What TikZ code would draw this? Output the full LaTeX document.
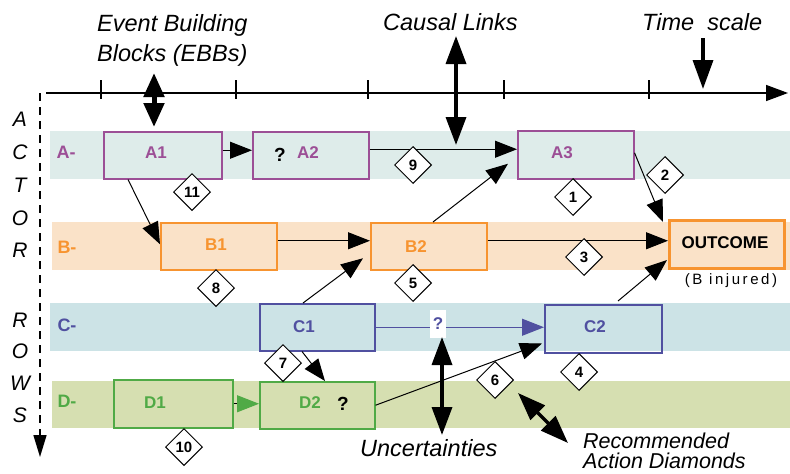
\documentclass[tikz,border=0pt]{standalone}
\usepackage{fontspec}
\setmainfont{Liberation Sans}
\newfontfamily\widefont[LetterSpace=17]{Liberation Sans}
\usetikzlibrary{arrows.meta,shapes.geometric,calc}
\definecolor{bandA}{RGB}{222,236,234}
\definecolor{bandB}{RGB}{250,226,200}
\definecolor{bandC}{RGB}{204,227,230}
\definecolor{bandD}{RGB}{214,223,177}
\definecolor{colA}{RGB}{156,79,150}
\definecolor{colB}{RGB}{247,148,48}
\definecolor{colC}{RGB}{80,80,160}
\definecolor{colD}{RGB}{80,170,70}
\begin{document}
\begin{tikzpicture}[x=1pt,y=-1pt,
  ebb/.style={draw=#1, line width=1.5pt, inner sep=0pt, anchor=north west},
  lbl/.style={font=\bfseries\fontsize{17}{20}\selectfont, text=#1, inner sep=0pt},
  rowlab/.style={font=\bfseries\fontsize{18}{20}\selectfont, text=#1, inner sep=0pt},
  diam/.style={diamond, draw=black, fill=white, line width=1pt, minimum size=37pt, inner sep=0pt, font=\bfseries\fontsize{15}{17}\selectfont},
  conn/.style={line width=1pt, -{Triangle[length=22pt,width=17pt]}},
  big/.style={line width=3.5pt, {Triangle[length=28pt,width=20pt]}-{Triangle[length=28pt,width=20pt]}},
  note/.style={font=\itshape\fontsize{23.5}{28}\selectfont, anchor=base west, inner sep=0pt},
  side/.style={font=\itshape\fontsize{21}{24}\selectfont, inner sep=0pt},
  tick/.style={line width=1.5pt}
]
\useasboundingbox (0,0) rectangle (790,474);
% bands
\fill[bandA] (50,131) rectangle (790,179);
\fill[bandB] (52,222) rectangle (790,270);
\fill[bandC] (50,303) rectangle (790,351);
\fill[bandD] (52,381) rectangle (790,428);
% axes
\coordinate (axL) at (46,93);
\coordinate (axR) at (788,93);
\draw[line width=1.5pt, -{Triangle[length=22pt,width=16pt]}] (axL) -- (axR);
\foreach \t in {101,236,368,504,649} \draw[tick] (\t,80) -- (\t,99);
\coordinate (vT) at (40,93);
\coordinate (vB) at (40,457);
\draw[line width=1.5pt, dash pattern=on 8pt off 6pt, -{Triangle[length=22pt,width=13pt]}] (vT) -- (vB);
% side letters
\foreach \l/\yy [count=\i] in {A/119,C/152,T/185,O/218,R/250,R/320,O/351,W/383,S/415}
  \node[side] (side\i) at (20,\yy) {\l};
% row labels
\node[rowlab=colA] (rA) at (66,152) {A-};
\node[rowlab=colB] (rB) at (67,247) {B-};
\node[rowlab=colC] (rC) at (67,325) {C-};
\node[rowlab=colD] (rD) at (67,401) {D-};
% boxes
\node[ebb=colA, minimum width=118pt, minimum height=47pt] (A1) at (103,131) {};
\node[ebb=colA, minimum width=116pt, minimum height=47pt] (A2) at (252,131) {};
\node[ebb=colA, minimum width=116pt, minimum height=48pt] (A3) at (517,130) {};
\node[ebb=colB, minimum width=116pt, minimum height=47pt] (B1) at (160,222) {};
\node[ebb=colB, minimum width=116pt, minimum height=47pt] (B2) at (370,222) {};
\node[ebb=colB, line width=3pt, minimum width=115pt, minimum height=48pt] (OUT) at (668,219) {};
\node[ebb=colC, minimum width=115pt, minimum height=47pt] (C1) at (259,303) {};
\node[ebb=colC, minimum width=117pt, minimum height=48pt] (C2) at (544,304) {};
\node[ebb=colD, minimum width=119pt, minimum height=48pt] (D1) at (113,379) {};
\node[ebb=colD, minimum width=115pt, minimum height=47pt] (D2) at (259,381) {};
% box labels
\node[lbl=colA] (tA1) at (156,153) {A1};
\node[lbl=black, font=\bfseries\fontsize{19}{20}\selectfont] (qA2) at (280,155) {?};
\node[lbl=colA] (tA2) at (308,153) {A2};
\node[lbl=colA] (tA3) at (562,153) {A3};
\node[lbl=colB] (tB1) at (216,245) {B1};
\node[lbl=colB] (tB2) at (416,247) {B2};
\node[lbl=black] (tOUT) at (725,243) {OUTCOME};
\node[inner sep=0pt, anchor=base, font=\widefont\fontsize{15}{18}\selectfont] (inj) at (731,284) {(B injured)};
\node[lbl=colC] (tC1) at (304,327) {C1};
\node[lbl=colC] (tC2) at (595,327) {C2};
\node[lbl=colD] (tD1) at (155,403) {D1};
\node[lbl=colD] (tD2) at (310,403) {D2};
\node[lbl=black, font=\bfseries\fontsize{19}{20}\selectfont] (qD2) at (343,404) {?};
% connector start points
\coordinate (a1o) at ([yshift=5pt]A1.east);
\coordinate (a2o) at ([yshift=6pt]A2.east);
\coordinate (b1o) at ([yshift=5.5pt]B1.east);
\coordinate (b2o) at ([yshift=5.5pt]B2.east);
% connectors
\draw[conn] (a1o) -- (a1o -| A2.west);
\draw[conn] (a2o) -- (a2o -| A3.west);
\draw[conn] ([xshift=25pt]A1.south west) -- ([yshift=2pt]B1.west);
\draw[conn] (b1o) -- (b1o -| B2.west);
\draw[conn] ([xshift=44pt]C1.north west) -- ([xshift=-7pt,yshift=-12pt]B2.west);
\draw[conn] ([xshift=63pt]B2.north west) -- ([xshift=-9pt,yshift=-9pt]A3.west);
\draw[conn] ([yshift=2pt]A3.east) -- ([xshift=-5pt,yshift=-3pt]OUT.north west);
\draw[conn] (b2o) -- (b2o -| OUT.west);
\draw[conn] ([xshift=74pt,yshift=3pt]C2.north west) -- ([xshift=-1pt,yshift=10pt]OUT.south west);
\draw[conn, draw=colC, -{Triangle[length=22pt,width=17pt,color=colC]}] (C1.east) -- (C1.east -| C2.west);
\draw[conn] (D2.east) -- ([xshift=-2pt,yshift=10pt]C2.south west);
\draw[conn] ([xshift=43pt]C1.south west) -- ([xshift=66pt]D2.north west);
\draw[conn, -{Triangle[length=22pt,width=17pt,color=colD]}] (D1.east) -- (D1.east -| D2.west);
\node[lbl=colC, fill=white, inner xsep=3pt, inner ysep=8pt] (qC) at (438,324) {?};
% diamonds
\node[diam] (d11) at (192,192) {11};
\node[diam] (d8) at (216,288) {8};
\node[diam] (d10) at (184,447) {10};
\node[diam] (d7) at (283,363) {7};
\node[diam] (d9) at (413,165) {9};
\node[diam] (d1) at (573,197) {1};
\node[diam] (d2) at (665,175) {2};
\node[diam] (d3) at (584,257) {3};
\node[diam] (d5) at (413,283) {5};
\node[diam] (d6) at (495,380) {6};
\node[diam] (d4) at (579,372) {4};
% big pointer arrows
\coordinate (ebbT) at (154,73);
\coordinate (ebbB) at (154,127);
\draw[line width=5pt, {Triangle[length=24pt,width=20pt]}-{Triangle[length=24pt,width=20pt]}] (ebbT) -- (ebbB);
\coordinate (clT) at (456,36);
\coordinate (clB) at (456,145);
\draw[big] (clT) -- (clB);
\coordinate (tsT) at (703,38);
\coordinate (tsB) at (703,89);
\draw[line width=3.5pt, -{Triangle[length=29pt,width=20pt]}] (tsT) -- (tsB);
\coordinate (unT) at (442,337);
\coordinate (unB) at (442,435);
\draw[big] (unT) -- (unB);
\coordinate (raT) at (518,393);
\coordinate (raB) at (568,443);
\draw[big] (raT) -- (raB);
% annotations
\node[note] (n1) at (97,31.5) {Event Building};
\node[note] (n2) at (97,61.5) {Blocks (EBBs)};
\node[note] (n3) at (383,30) {Causal Links};
\node[note] (n4) at (642,30) {Time\ \ scale};
\node[note] (n5) at (360,456) {Uncertainties};
\node[font=\itshape\fontsize{21.5}{20}\selectfont, align=left, anchor=north west, inner sep=0pt] (n6) at (583,433) {Recommended\\Action Diamonds};
\end{tikzpicture}
\end{document}
